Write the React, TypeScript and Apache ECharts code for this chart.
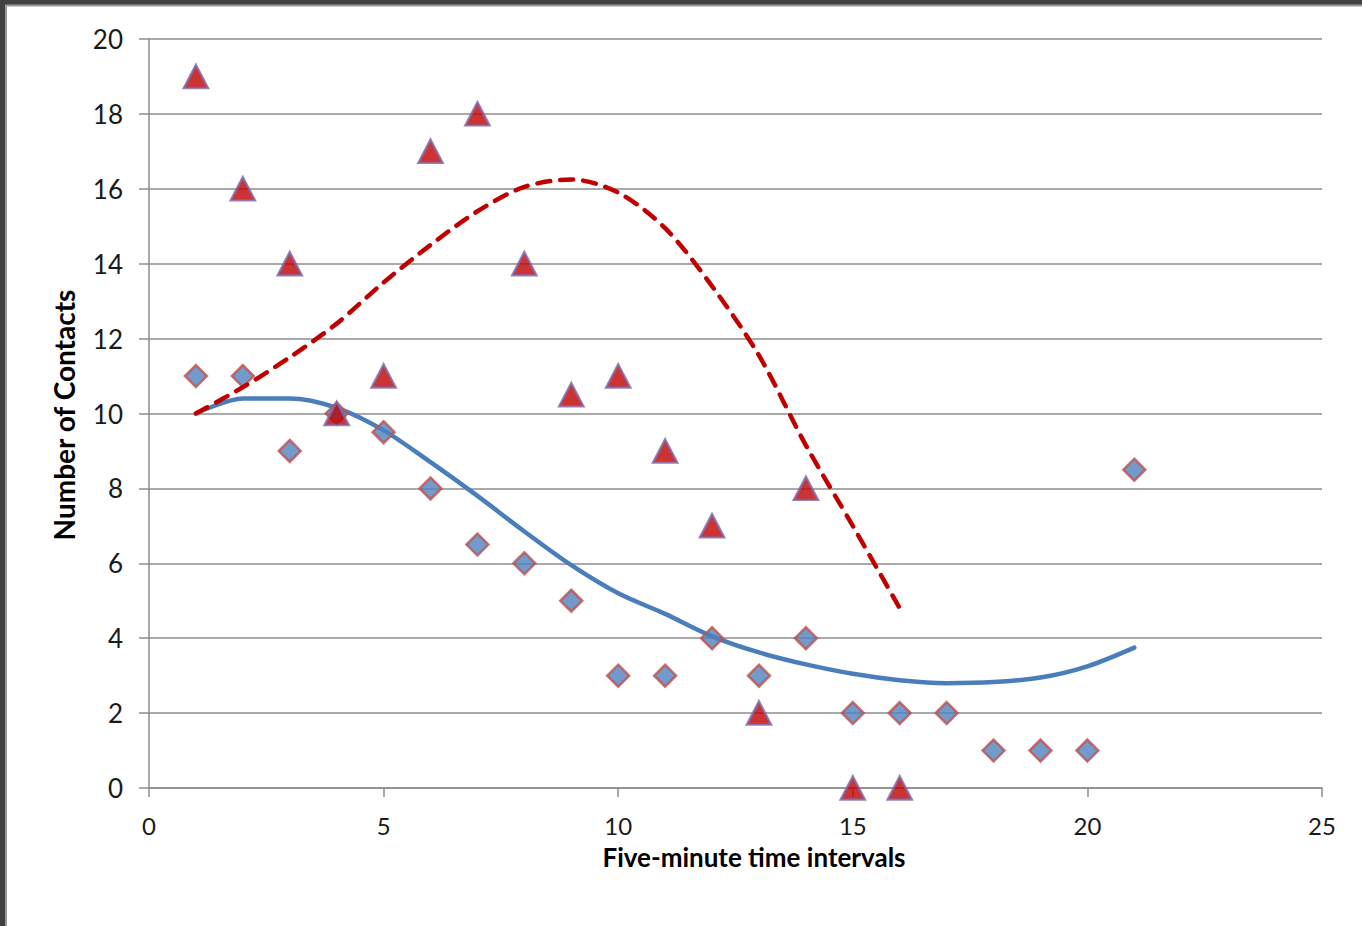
import React, { useEffect, useRef } from "react";
import * as echarts from "echarts";

const xValues = [1, 2, 3, 4, 5, 6, 7, 8, 9, 10, 11, 12, 13, 14, 15, 16, 17, 18, 19, 20, 21];
const triangleY = [19, 16, 14, 10, 11, 17, 18, 14, 10.5, 11, 9, 7, 2, 8, 0, 0];
const diamondY = [11, 11, 9, 10, 9.5, 8, 6.5, 6, 5, 3, 3, 4, 3, 4, 2, 2, 2, 1, 1, 1, 8.5];
const dashedTrend = [10.0, 10.7, 11.5, 12.4, 13.5, 14.5, 15.4, 16.05, 16.25, 15.9, 14.95, 13.4, 11.55, 9.15, 7.0, 4.8];
const solidTrend = [10.0, 10.4, 10.4, 10.15, 9.55, 8.7, 7.8, 6.85, 5.95, 5.2, 4.65, 4.05, 3.62, 3.3, 3.05, 2.88, 2.8, 2.83, 2.95, 3.25, 3.75];
const xTitle = "Five-minute time intervals";
const yTitle = "Number of Contacts";

const pairs = (ys: number[]) => ys.map((y, i) => [xValues[i], y]);

export default function App() {
  const ref = useRef<HTMLDivElement>(null);
  useEffect(() => {
    if (!ref.current) return;
    const chart = echarts.init(ref.current, null, { renderer: "svg" });
    const font = "Lato, 'Open Sans', sans-serif";
    chart.setOption({
      animation: false,
      backgroundColor: "#ffffff",
      grid: { left: 149, right: 40, top: 39, bottom: 138 },
      xAxis: {
        type: "value",
        min: 0,
        max: 25,
        interval: 5,
        axisLine: { show: true, lineStyle: { color: "#8c8c8c", width: 1.5 } },
        axisTick: { show: true, length: 9, lineStyle: { color: "#8c8c8c", width: 1.5 } },
        splitLine: { show: false },
        axisLabel: { color: "#1a1a1a", fontSize: 24, lineHeight: 21, fontFamily: font, margin: 27 },
      },
      yAxis: {
        type: "value",
        min: 0,
        max: 20,
        interval: 2,
        axisLine: { show: true, lineStyle: { color: "#8c8c8c", width: 1.5 } },
        axisTick: { show: true, length: 10, lineStyle: { color: "#8c8c8c", width: 1.5 } },
        splitLine: { show: true, lineStyle: { color: "#8c8c8c", width: 1.5 } },
        axisLabel: { color: "#1a1a1a", fontSize: 26, fontFamily: font, margin: 26 },
      },
      series: [
        {
          type: "line",
          data: pairs(solidTrend),
          smooth: 0.3,
          symbol: "none",
          lineStyle: { color: "#4A7EBB", width: 4.5, cap: "round", join: "round" },
          z: 2,
        },
        {
          type: "scatter",
          data: pairs(diamondY),
          symbol: "diamond",
          symbolSize: 22,
          itemStyle: { color: "#4F81BD", borderColor: "#C0504D", borderWidth: 2.5 },
          z: 3,
        },
        {
          type: "line",
          data: pairs(dashedTrend),
          smooth: 0.3,
          symbol: "none",
          lineStyle: { color: "#C00000", width: 4.5, type: [13, 10], cap: "round", join: "round" },
          z: 4,
        },
        {
          type: "scatter",
          data: pairs(triangleY),
          symbol: "triangle",
          symbolSize: [24, 23],
          itemStyle: { color: "#C00000", borderColor: "#8064A2", borderWidth: 2.5 },
          z: 5,
        },
      ],
      graphic: [
        {
          type: "text",
          x: 754,
          y: 857,
          style: {
            text: xTitle,
            fontSize: 26,
            lineHeight: 21,
            fontWeight: "bold",
            fontFamily: font,
            fill: "#000",
            align: "center",
            verticalAlign: "middle",
          },
        },
        {
          type: "text",
          x: 64,
          y: 415,
          rotation: Math.PI / 2,
          style: {
            text: yTitle,
            fontSize: 28,
            fontWeight: "bold",
            fontFamily: font,
            fill: "#000",
            align: "center",
            verticalAlign: "middle",
          },
        },
        { type: "rect", z: 100, shape: { x: 0, y: 0, width: 1362, height: 6.5 }, style: { fill: "#9a9a9a" } },
        { type: "rect", z: 100, shape: { x: 0, y: 0, width: 7, height: 926 }, style: { fill: "#9a9a9a" } },
        { type: "rect", z: 101, shape: { x: 0, y: 0, width: 1362, height: 4.5 }, style: { fill: "#404040" } },
        { type: "rect", z: 101, shape: { x: 0, y: 0, width: 5, height: 926 }, style: { fill: "#404040" } },
      ],
    });
    return () => chart.dispose();
  }, []);
  return (
    <div
      ref={ref}
      style={{ position: "fixed", left: 0, top: 0, width: 1362, height: 926, background: "#fff" }}
    />
  );
}
